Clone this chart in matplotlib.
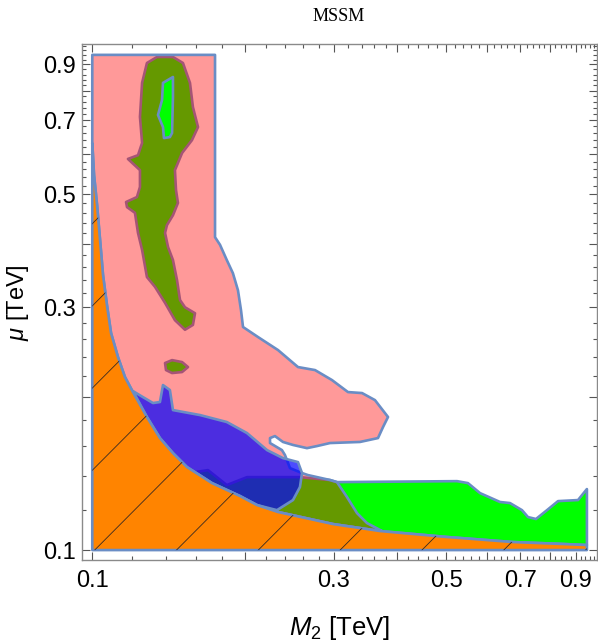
import numpy as np
import matplotlib
matplotlib.use("Agg")
import matplotlib.pyplot as plt
from matplotlib.path import Path
from matplotlib.patches import PathPatch, Polygon
from matplotlib.ticker import FixedLocator, FixedFormatter, NullFormatter

plt.rcParams['font.family'] = ['Liberation Sans', 'DejaVu Sans']
plt.rcParams['mathtext.fontset'] = 'custom'
plt.rcParams['mathtext.rm'] = 'Liberation Sans'
plt.rcParams['mathtext.it'] = 'Liberation Sans:italic'
plt.rcParams['mathtext.bf'] = 'Liberation Sans:bold'

# ---------------- data (TeV) ----------------
# lower excluded (orange) boundary, from top-left to bottom-right
orange_m2 = [0.1, 0.1008, 0.1022, 0.1036, 0.1050, 0.1069, 0.1089, 0.1124, 0.1160, 0.1203,
             0.1282, 0.1360, 0.1443, 0.1538, 0.1723, 0.1957, 0.2114, 0.2326, 0.2986, 0.370,
             0.501, 0.677, 0.849, 0.947]
orange_mu = [0.6308, 0.5458, 0.4765, 0.4067, 0.3471, 0.3030, 0.2670, 0.2394, 0.2188, 0.2044,
             0.1826, 0.1660, 0.1551, 0.1456, 0.1354, 0.1277, 0.1226, 0.1188, 0.1125, 0.1090,
             0.1061, 0.1037, 0.1028, 0.1023]
grid_min = 0.1
grid_max_m2 = 0.947
grid_max_mu = 0.94

# red (pink) region outer boundary (upper part); closes along the orange curve
pink_m2 = [0.1, 0.1747, 0.1747, 0.1787, 0.1843, 0.1895, 0.1939, 0.1966, 0.1984, 0.2124,
           0.2326, 0.2547, 0.2752, 0.2973, 0.3197, 0.3408, 0.3614, 0.3835, 0.3749, 0.3664,
           0.3376, 0.2946, 0.2777, 0.2653, 0.2490, 0.2379, 0.2294, 0.2243, 0.2243, 0.2368,
           0.2401, 0.2456, 0.2594, 0.2666, 0.2946, 0.3041, 0.3183, 0.3331, 0.3485, 0.3732]
pink_mu = [0.94, 0.94, 0.412, 0.398, 0.3715, 0.350, 0.324, 0.296, 0.2744, 0.2622,
           0.2472, 0.2289, 0.2258, 0.2158, 0.2044, 0.2035, 0.1971, 0.1826, 0.1745, 0.1660,
           0.1631, 0.1623, 0.1601, 0.1586, 0.1609, 0.1631, 0.1675, 0.1660, 0.1623, 0.1572,
           0.1537, 0.1449, 0.1417, 0.1404, 0.1373, 0.1360, 0.1271, 0.1182, 0.1130, 0.1090]

# hole in red region (bright green island)
hole_m2 = [0.1379, 0.1443, 0.1443, 0.1437, 0.1423, 0.1385, 0.1379, 0.1348, 0.1373]
hole_mu = [0.828, 0.8505, 0.777, 0.660, 0.648, 0.645, 0.678, 0.716, 0.766]

# green blob (upper left)
blob_m2 = [0.1342, 0.1282, 0.1254, 0.1242, 0.1254, 0.1231, 0.1176, 0.1242, 0.1242, 0.1225,
           0.1166, 0.1171, 0.1214, 0.1231, 0.1254, 0.1282, 0.1330, 0.1392, 0.1456, 0.1524,
           0.1580, 0.1595, 0.1524, 0.1490, 0.1470, 0.1443, 0.1411, 0.1392, 0.1404, 0.1443,
           0.1476, 0.1463, 0.1456, 0.1504, 0.1573, 0.1617, 0.1580, 0.1559, 0.1510, 0.1443]
blob_mu = [0.931, 0.906, 0.828, 0.710, 0.631, 0.597, 0.587, 0.558, 0.517, 0.494,
           0.483, 0.472, 0.460, 0.420, 0.389, 0.344, 0.329, 0.306, 0.283, 0.271,
           0.277, 0.292, 0.300, 0.310, 0.339, 0.3715, 0.394, 0.420, 0.435, 0.455,
           0.481, 0.510, 0.558, 0.603, 0.639, 0.678, 0.742, 0.828, 0.906, 0.931]

# small green island
isl_m2 = [0.1392, 0.1437, 0.1504, 0.1545, 0.1504, 0.1437, 0.1398]
isl_mu = [0.2331, 0.2362, 0.2341, 0.2289, 0.2238, 0.2228, 0.2258]

# lower green band, upper boundary (closes along the orange curve)
gb_m2 = [0.1595, 0.1692, 0.1843, 0.2020, 0.2570, 0.2946, 0.3041, 0.5248, 0.5514, 0.5826,
         0.6381, 0.6676, 0.7050, 0.7245, 0.7513, 0.7899, 0.8305, 0.9095, 0.947, 0.947]
gb_mu = [0.1423, 0.1436, 0.1342, 0.1391, 0.1391, 0.1373, 0.1360, 0.1366, 0.1354, 0.1294,
         0.1243, 0.1237, 0.1198, 0.1161, 0.1151, 0.1198, 0.1248, 0.1254, 0.1318, 0.1023]

# blue region, upper boundary (closes along the orange curve)
blue_m2 = [0.1203, 0.1259, 0.1318, 0.1360, 0.1379, 0.1423, 0.1443, 0.1632, 0.1843, 0.2020,
           0.2213, 0.2379, 0.2547, 0.2594, 0.2570, 0.2490, 0.2315]
blue_mu = [0.2053, 0.1998, 0.1945, 0.1954, 0.2110, 0.2063, 0.1884, 0.1842, 0.1785, 0.1698,
           0.1572, 0.1516, 0.1489, 0.1417, 0.1330, 0.1254, 0.1198]

major_ticks = [0.1, 0.2, 0.3, 0.4, 0.5, 0.6, 0.7, 0.8, 0.9]
major_labels = ['0.1', '', '0.3', '', '0.5', '', '0.7', '', '0.9']

# ---------------- helpers ----------------
om2 = np.array(orange_m2)
omu = np.array(orange_mu)


def close_on_curve(xs, ys, xlo, xhi):
    """append orange-curve points with xlo < x < xhi in reverse order"""
    sel = (om2 > xlo) & (om2 < xhi)
    return (list(xs) + list(om2[sel][::-1]), list(ys) + list(omu[sel][::-1]))


EDGE = '#6A8DC5'
LW = 1.9

fig = plt.figure(figsize=(5.98, 6.44), dpi=100)
ax = fig.add_axes([0.1366, 0.1304, 0.8612, 0.8008])
ax.set_xscale('log')
ax.set_yscale('log')
ax.set_xlim(0.0953, 0.990)
ax.set_ylim(0.0956, 0.986)

GREEN = '#00FF00'
# green regions
gx, gy = close_on_curve(gb_m2, gb_mu, gb_m2[0], grid_max_m2)
ax.add_patch(Polygon(np.column_stack([gx, gy]), closed=True, facecolor=GREEN,
                     edgecolor=EDGE, lw=LW, zorder=1, joinstyle='round'))
ax.add_patch(Polygon(np.column_stack([blob_m2, blob_mu]), closed=True, facecolor=GREEN,
                     edgecolor=EDGE, lw=LW, zorder=1, joinstyle='round'))
ax.add_patch(Polygon(np.column_stack([isl_m2, isl_mu]), closed=True, facecolor=GREEN,
                     edgecolor=EDGE, lw=LW, zorder=1, joinstyle='round'))

# red translucent region with a hole
px, py = close_on_curve(pink_m2, pink_mu, 0.0, pink_m2[-1])
outer = np.column_stack([px, py])
hole = np.column_stack([hole_m2, hole_mu])[::-1]
verts = np.concatenate([outer, outer[:1], hole, hole[:1]])
codes = ([Path.MOVETO] + [Path.LINETO] * (len(outer) - 1) + [Path.CLOSEPOLY] +
         [Path.MOVETO] + [Path.LINETO] * (len(hole) - 1) + [Path.CLOSEPOLY])
ax.add_patch(PathPatch(Path(verts, codes), facecolor=(1, 0, 0, 0.4), edgecolor=EDGE,
                       lw=LW, zorder=2, joinstyle='round'))

# blue translucent region
bx, by = close_on_curve(blue_m2, blue_mu, blue_m2[0], blue_m2[-1])
ax.add_patch(Polygon(np.column_stack([bx, by]), closed=True, facecolor=(0, 0, 1, 0.7),
                     edgecolor=EDGE, lw=LW, zorder=3, joinstyle='round'))

# orange excluded region
ox = [grid_min] + orange_m2 + [grid_max_m2]
oy = [grid_min] + orange_mu + [grid_min]
orange_patch = Polygon(np.column_stack([ox, oy]), closed=True, facecolor='#FF8400',
                       edgecolor=EDGE, lw=LW, zorder=4, joinstyle='round')
ax.add_patch(orange_patch)

# sparse diagonal hatching in the orange region
for k in range(-5, 9):
    c = 0.1568 - 0.1615 * k
    xs = np.array([0.05, 1.5])
    ln, = ax.plot(xs, xs * 10 ** c, color='#3a2a20', lw=0.6, zorder=5)
    ln.set_clip_path(orange_patch)

# ---------------- axes styling ----------------
for sp in ax.spines.values():
    sp.set_color('#8a8a8a')
    sp.set_linewidth(1.0)

minor = [round(v, 2) for v in np.arange(0.10, 1.0, 0.02) if round(v, 2) not in major_ticks]
for axis in (ax.xaxis, ax.yaxis):
    axis.set_major_locator(FixedLocator(major_ticks))
    axis.set_major_formatter(FixedFormatter(major_labels))
    axis.set_minor_locator(FixedLocator(minor))
    axis.set_minor_formatter(NullFormatter())

ax.tick_params(which='both', direction='in', top=True, right=True, color='#555555',
               width=0.8)
ax.tick_params(which='major', length=6, labelsize=17)
ax.tick_params(which='minor', length=3)
ax.tick_params(axis='x', which='major', pad=7)
ax.tick_params(axis='y', which='major', pad=4)

ax.set_xlabel(r'$M_2$ [TeV]', fontsize=18.5)
ax.set_ylabel(r'$\mu$ [TeV]', fontsize=17)
ax.xaxis.set_label_coords(0.5, -0.105)
ax.yaxis.set_label_coords(-0.098, 0.5)

fig.text(0.567, 1 - 21 / 644, 'MSSM', ha='center', va='baseline',
         fontfamily='Liberation Serif', fontsize=13)

fig.savefig('out.png', dpi=100)
